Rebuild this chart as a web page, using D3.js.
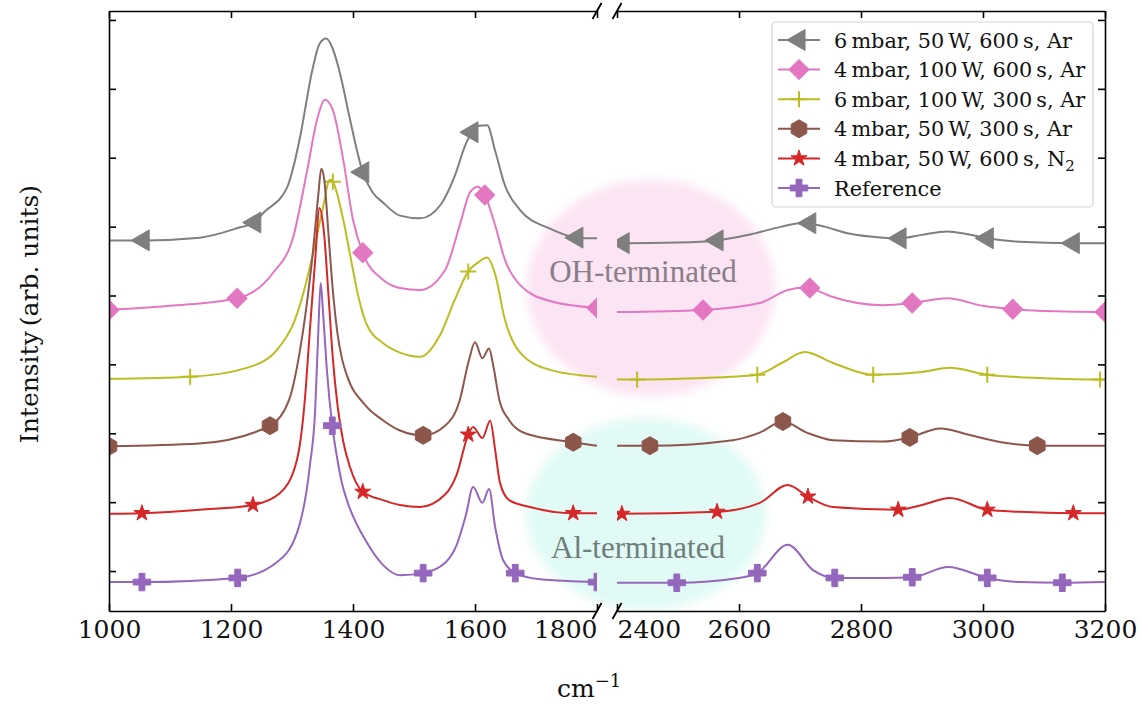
<!DOCTYPE html>
<html>
<head>
<meta charset="utf-8">
<script src="https://cdnjs.cloudflare.com/ajax/libs/d3/7.8.5/d3.min.js"></script>
<style>
body { margin: 0; background: #fff; }
svg { display: block; }
</style>
</head>
<body>
<svg id="chart" width="1142" height="704"></svg>
<script>
// ---- data (wavenumber, intensity above the curve's own baseline) ----
const seriesNames = ["6 mbar, 50 W, 600 s, Ar", "4 mbar, 100 W, 600 s, Ar", "6 mbar, 100 W, 300 s, Ar",
                     "4 mbar, 50 W, 300 s, Ar", "4 mbar, 50 W, 600 s, N2", "Reference"];
const seriesColors = ["#7f7f7f", "#e377c2", "#bcbd22", "#8c564b", "#d62728", "#9467bd"];
const seriesMarkers = ["triangleLeft", "diamond", "plus", "hexagon", "star", "cross"];
const offsets = [4.80, 3.79, 2.79, 1.81, 0.83, -0.16];

const grayPts = [[1000,0],[1039,0],[1056,0],[1149,0.04],[1215,0.19],[1239,0.26],[1252,0.39],[1292,0.77],[1303,1.09],[1313,1.49],[1334,2.50],[1345,2.85],[1356,2.93],[1366,2.80],[1375,2.55],[1384,2.22],[1392,1.88],[1400,1.56],[1408,1.25],[1416,0.99],[1432,0.70],[1449,0.55],[1477,0.36],[1510,0.32],[1543,0.51],[1567,0.94],[1584,1.38],[1595,1.57],[1605,1.66],[1620,1.67],[1633,1.30],[1649,0.80],[1674,0.44],[1723,0.17],[1767,0.04],[1800,0.03],
  [2400,-0.04],[2410,-0.04],[2500,-0.03],[2564,0],[2620,0.09],[2670,0.20],[2711,0.26],[2716,0.25],[2740,0.20],[2780,0.10],[2836,0.04],[2864,0.03],[2900,0.08],[2941,0.13],[2975,0.09],[3007,0.03],[3060,-0.02],[3148,-0.04],[3200,-0.04]];
const grayMarks = [1056,1239,1416,1595,1767,2410,2564,2716,2864,3007,3148];

const pinkPts = [[1000,0],[1100,0.06],[1210,0.17],[1269,0.54],[1302,1.06],[1325,2.03],[1341,2.76],[1354,3.05],[1367,2.90],[1384,2.18],[1400,1.31],[1416,0.83],[1449,0.44],[1477,0.32],[1510,0.29],[1551,0.58],[1575,1.23],[1592,1.71],[1605,1.79],[1616,1.67],[1633,1.23],[1649,0.73],[1674,0.36],[1723,0.13],[1800,0.03],
  [2400,-0.03],[2541,0],[2634,0.10],[2680,0.29],[2711,0.33],[2716,0.32],[2750,0.20],[2836,0.07],[2884,0.10],[2941,0.17],[3000,0.06],[3049,0.01],[3120,-0.02],[3200,-0.03]];
const pinkMarks = [1000,1210,1416,1616,1800,2541,2716,2884,3049,3200];

const olivePts = [[1000,0],[1133,0.03],[1230,0.17],[1279,0.46],[1305,0.86],[1320,1.29],[1334,1.80],[1350,2.45],[1362,2.89],[1367,2.86],[1384,2.31],[1400,1.58],[1410,1.15],[1423,0.78],[1449,0.52],[1477,0.38],[1510,0.32],[1543,0.64],[1567,1.15],[1589,1.56],[1605,1.69],[1620,1.76],[1633,1.52],[1649,0.86],[1674,0.38],[1723,0.13],[1800,0.03],
  [2400,-0.01],[2433,-0.01],[2530,0.01],[2630,0.06],[2670,0.23],[2708,0.39],[2754,0.23],[2820,0.06],[2900,0.10],[2946,0.16],[3007,0.06],[3100,0.01],[3192,-0.01],[3200,-0.01]];
const oliveMarks = [1133,1367,1589,2433,2630,2820,3007,3192];

const brownPts = [[1000,0],[1148,0.04],[1264,0.30],[1295,0.67],[1313,1.39],[1325,2.12],[1334,2.80],[1343,3.64],[1348,4.03],[1353,3.86],[1360,3.06],[1367,2.26],[1375,1.61],[1382,1.27],[1390,1.03],[1420,0.60],[1449,0.38],[1477,0.23],[1515,0.16],[1551,0.30],[1575,0.67],[1590,1.25],[1600,1.51],[1612,1.28],[1623,1.42],[1630,1.17],[1640,0.67],[1656,0.38],[1682,0.19],[1761,0.06],[1800,0.01],
  [2400,0.01],[2454,0.01],[2590,0.09],[2634,0.20],[2672,0.36],[2711,0.20],[2754,0.09],[2836,0.07],[2880,0.13],[2930,0.26],[2980,0.16],[3030,0.06],[3089,0.01],[3200,0.01]];
const brownMarks = [1000,1264,1515,1761,2454,2672,2880,3089];

const redPts = [[1000,0],[1054,0.01],[1149,0.06],[1236,0.13],[1280,0.30],[1308,0.78],[1321,1.65],[1329,2.63],[1338,3.69],[1345,4.44],[1352,4.12],[1360,3.15],[1367,2.25],[1375,1.55],[1384,1.05],[1395,0.68],[1416,0.32],[1449,0.20],[1477,0.13],[1510,0.10],[1551,0.28],[1570,0.57],[1589,1.15],[1597,1.26],[1612,1.10],[1625,1.35],[1633,0.93],[1641,0.45],[1656,0.20],[1690,0.10],[1761,0.01],[1800,0.01],
  [2400,0],[2408,0],[2564,0.03],[2634,0.16],[2680,0.42],[2713,0.25],[2754,0.10],[2861,0.06],[2900,0.13],[2946,0.23],[3007,0.06],[3060,0.03],[3148,0.01],[3200,0.01]];
const redMarks = [1054,1236,1416,1589,1761,2408,2564,2713,2861,3007,3148];

const purplePts = [[1000,0],[1054,0],[1211,0.06],[1274,0.28],[1308,0.71],[1329,1.67],[1338,2.50],[1343,3.61],[1347,4.34],[1351,3.90],[1357,3.10],[1366,2.27],[1375,1.75],[1382,1.43],[1390,1.19],[1423,0.57],[1449,0.25],[1477,0.10],[1515,0.13],[1551,0.28],[1570,0.54],[1585,0.97],[1597,1.38],[1612,1.15],[1623,1.35],[1633,0.80],[1646,0.32],[1666,0.13],[1707,0.04],[1800,0],
  [2400,-0.01],[2498,-0.01],[2600,0.06],[2630,0.13],[2680,0.54],[2722,0.17],[2757,0.06],[2836,0.06],[2884,0.07],[2943,0.22],[3007,0.06],[3060,0],[3130,-0.01],[3200,0]];
const purpleMarks = [1054,1211,1366,1515,1666,1800,2498,2630,2757,2884,3007,3130];

const leftTicks = [1000, 1200, 1400, 1600, 1800];
const rightTicks = [2400, 2600, 2800, 3000, 3200];
const yTicks = [0, 1, 2, 3, 4, 5, 6, 7, 8];

const allPts = [grayPts, pinkPts, olivePts, brownPts, redPts, purplePts];
const allMarks = [grayMarks, pinkMarks, oliveMarks, brownMarks, redMarks, purpleMarks];

// ---- layout ----
const svg = d3.select("#chart");
const serif = "'DejaVu Serif', serif";
const plotTop = 11, plotBottom = 611;

const xL = d3.scaleLinear().domain([1000, 1800]).range([109, 597]);
const xR = d3.scaleLinear().domain([2400, 3200]).range([617, 1105]);
const y = d3.scaleLinear().domain([-0.58, 8.13]).range([plotBottom, plotTop]);

const series = seriesNames.map((name, i) => ({
  name: name, color: seriesColors[i], marker: seriesMarkers[i], off: offsets[i],
  pts: allPts[i], marks: allMarks[i]
}));

function markerPath(type) {
  if (type == "triangleLeft") return d3.symbol().type(d3.symbolTriangle).size(190)();
  if (type == "diamond") return d3.symbol().type(d3.symbolSquare).size(200)();
  if (type == "star") return d3.symbol().type(d3.symbolStar).size(80)();
  if (type == "cross") return d3.symbol().type(d3.symbolCross).size(170)();
  if (type == "plus") return "M-8,0H8M0,-8V8";
  if (type == "hexagon") {
    const r = 9;
    return d3.range(6).map(k => {
      const a = Math.PI / 3 * k - Math.PI / 2;
      return (k ? "L" : "M") + (r * Math.cos(a)).toFixed(2) + "," + (r * Math.sin(a)).toFixed(2);
    }).join("") + "Z";
  }
}
function markerRotate(type) {
  if (type == "triangleLeft") return -90;
  if (type == "diamond") return 45;
  return 0;
}

// ---- soft annotation blobs ----
const defs = svg.append("defs");
defs.append("filter").attr("id", "soft").attr("x", "-20%").attr("y", "-20%").attr("width", "140%").attr("height", "140%")
  .append("feGaussianBlur").attr("stdDeviation", 5);
defs.append("clipPath").attr("id", "clipL").append("rect")
  .attr("x", xL.range()[0]).attr("y", plotTop).attr("width", xL.range()[1] - xL.range()[0]).attr("height", plotBottom - plotTop);
defs.append("clipPath").attr("id", "clipR").append("rect")
  .attr("x", xR.range()[0]).attr("y", plotTop).attr("width", xR.range()[1] - xR.range()[0]).attr("height", plotBottom - plotTop);
defs.append("clipPath").attr("id", "clipAll").append("rect")
  .attr("x", 0).attr("y", 0).attr("width", 1142).attr("height", plotBottom);

const blobs = svg.append("g").attr("clip-path", "url(#clipAll)");
blobs.append("ellipse").attr("cx", 651).attr("cy", 288).attr("rx", 124).attr("ry", 108)
  .attr("fill", "#fbe4f3").attr("filter", "url(#soft)");
blobs.append("ellipse").attr("cx", 646).attr("cy", 514).attr("rx", 120).attr("ry", 96)
  .attr("fill", "#e1faf5").attr("filter", "url(#soft)");
svg.append("text").attr("x", 643).attr("y", 282).attr("text-anchor", "middle")
  .style("font-family", "'Liberation Serif', serif").style("font-size", "31px").attr("fill", "#8b7d87")
  .text("OH-terminated");
svg.append("text").attr("x", 638).attr("y", 558).attr("text-anchor", "middle")
  .style("font-family", "'Liberation Serif', serif").style("font-size", "31px").attr("fill", "#6e7f7b")
  .text("Al-terminated");

// ---- curves ----
function drawPanel(x, lo, hi, clipId) {
  const g = svg.append("g").attr("clip-path", "url(#" + clipId + ")");
  series.forEach(s => {
    const pts = s.pts.filter(d => d[0] >= lo && d[0] <= hi);
    const line = d3.line().x(d => x(d[0])).y(d => y(d[1] + s.off)).curve(d3.curveMonotoneX);
    g.append("path").datum(pts)
      .attr("d", line)
      .attr("fill", "none").attr("stroke", s.color).attr("stroke-width", 2);
    const mk = pts.filter(d => s.marks.includes(d[0]));
    g.selectAll(null).data(mk).enter().append("path")
      .attr("d", markerPath(s.marker))
      .attr("transform", d => "translate(" + x(d[0]) + "," + y(d[1] + s.off) + ") rotate(" + markerRotate(s.marker) + ")")
      .attr("fill", s.marker == "plus" ? "none" : s.color)
      .attr("stroke", s.color).attr("stroke-width", s.marker == "plus" ? 2 : 1);
  });
}
drawPanel(xL, 1000, 1800, "clipL");
drawPanel(xR, 2400, 3200, "clipR");

// ---- axes ----
function styleAxis(g) {
  g.attr("font-family", null).attr("font-size", null);
  g.select(".domain").attr("stroke", "#000").attr("stroke-width", 1.6);
  g.selectAll(".tick line").attr("stroke", "#000").attr("stroke-width", 1.6);
  g.selectAll(".tick text").style("font-family", serif).style("font-size", "25px").attr("fill", "#111");
}
const axL = svg.append("g").attr("transform", "translate(0," + plotBottom + ")")
  .call(d3.axisBottom(xL).tickValues(leftTicks).tickSize(-7).tickSizeOuter(0).tickPadding(9).tickFormat(d3.format("d")))
  .call(styleAxis);
axL.selectAll(".tick text").filter(d => d == 1800).attr("text-anchor", "end");
const axR = svg.append("g").attr("transform", "translate(0," + plotBottom + ")")
  .call(d3.axisBottom(xR).tickValues(rightTicks).tickSize(-7).tickSizeOuter(0).tickPadding(9).tickFormat(d3.format("d")))
  .call(styleAxis);
axR.selectAll(".tick text").filter(d => d == 2400).attr("text-anchor", "start");
svg.append("g").attr("transform", "translate(0," + plotTop + ")")
  .call(d3.axisTop(xL).tickValues(leftTicks).tickSize(-7).tickSizeOuter(0).tickFormat(""))
  .call(styleAxis);
svg.append("g").attr("transform", "translate(0," + plotTop + ")")
  .call(d3.axisTop(xR).tickValues(rightTicks).tickSize(-7).tickSizeOuter(0).tickFormat(""))
  .call(styleAxis);
svg.append("g").attr("transform", "translate(" + xL.range()[0] + ",0)")
  .call(d3.axisLeft(y).tickValues(yTicks).tickSize(-7).tickSizeOuter(0).tickFormat(""))
  .call(styleAxis);
svg.append("g").attr("transform", "translate(" + xR.range()[1] + ",0)")
  .call(d3.axisRight(y).tickValues(yTicks).tickSize(-7).tickSizeOuter(0).tickFormat(""))
  .call(styleAxis);

// break marks
[[xL.range()[1], plotTop], [xL.range()[1], plotBottom], [xR.range()[0], plotTop], [xR.range()[0], plotBottom]].forEach(p => {
  svg.append("line")
    .attr("x1", p[0] - 4.5).attr("y1", p[1] + 8).attr("x2", p[0] + 4.5).attr("y2", p[1] - 8)
    .attr("stroke", "#000").attr("stroke-width", 1.8);
});

// axis titles
svg.append("text").attr("transform", "translate(38,314) rotate(-90)").attr("text-anchor", "middle")
  .style("font-family", serif).style("font-size", "25px").attr("fill", "#111")
  .text("Intensity\u2009(arb. units)");
const xt = svg.append("text").attr("x", 557).attr("y", 697)
  .style("font-family", serif).style("font-size", "25px").attr("fill", "#111");
xt.append("tspan").text("cm");
xt.append("tspan").attr("dy", -10).style("font-size", "18px").text("\u22121");

// ---- legend ----
const lg = svg.append("g");
lg.append("rect").attr("x", 772).attr("y", 22).attr("width", 321).attr("height", 185).attr("rx", 4)
  .attr("fill", "#fff").attr("fill-opacity", 0.85).attr("stroke", "#d4d4d4").attr("stroke-width", 1.2);
series.forEach((s, i) => {
  const cy = 40 + i * 29.6;
  const row = lg.append("g");
  row.append("line").attr("x1", 778).attr("x2", 820).attr("y1", cy).attr("y2", cy)
    .attr("stroke", s.color).attr("stroke-width", 2);
  row.append("path").attr("d", markerPath(s.marker))
    .attr("transform", "translate(799," + cy + ") rotate(" + markerRotate(s.marker) + ")")
    .attr("fill", s.marker == "plus" ? "none" : s.color)
    .attr("stroke", s.color).attr("stroke-width", s.marker == "plus" ? 2 : 1);
  const t = row.append("text").attr("x", 834).attr("y", cy + 7.5)
    .style("font-family", serif).style("font-size", "20.8px").attr("fill", "#111");
  const nm = s.name.replace(/ (mbar|W|s),/g, "\u2009$1,");
  if (nm.endsWith("N2")) {
    t.append("tspan").text(nm.slice(0, -1));
    t.append("tspan").attr("dy", 5).style("font-size", "15px").text("2");
  } else {
    t.text(nm);
  }
});
</script>
</body>
</html>
